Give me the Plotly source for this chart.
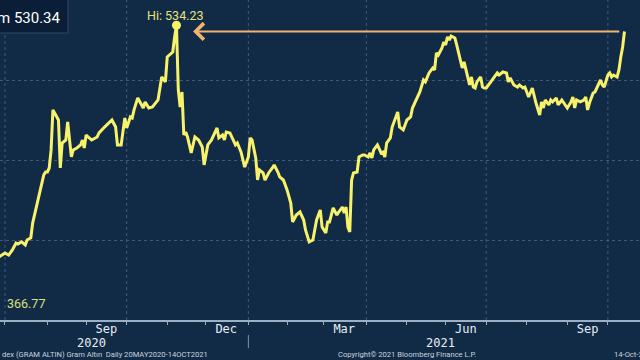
import plotly.graph_objects as go

# ---- data ----
dates = [
    "2020-05-20", "2020-05-22", "2020-05-27", "2020-06-01", "2020-06-05", "2020-06-10", "2020-06-15",
    "2020-06-19", "2020-06-24", "2020-06-26",
    "2020-07-01", "2020-07-03", "2020-07-07", "2020-07-09", "2020-07-10", "2020-07-14", "2020-07-16",
    "2020-07-17", "2020-07-21", "2020-07-22", "2020-07-24", "2020-07-28", "2020-07-30", "2020-07-31",
    "2020-08-03", "2020-08-04", "2020-08-05", "2020-08-06", "2020-08-10", "2020-08-11", "2020-08-12",
    "2020-08-13", "2020-08-17", "2020-08-18", "2020-08-20", "2020-08-21", "2020-08-25", "2020-08-27",
    "2020-08-28", "2020-08-31", "2020-09-01", "2020-09-02", "2020-09-04", "2020-09-09", "2020-09-10",
    "2020-09-15", "2020-09-17", "2020-09-21", "2020-09-23", "2020-09-24", "2020-09-28", "2020-09-30",
    "2020-10-01", "2020-10-05", "2020-10-06", "2020-10-07", "2020-10-09", "2020-10-14", "2020-10-15",
    "2020-10-19", "2020-10-21", "2020-10-26", "2020-10-28", "2020-10-30", "2020-11-02", "2020-11-04",
    "2020-11-05", "2020-11-06", "2020-11-09", "2020-11-10", "2020-11-11", "2020-11-12", "2020-11-13",
    "2020-11-16", "2020-11-17", "2020-11-19", "2020-11-23", "2020-11-25", "2020-11-27", "2020-11-30",
    "2020-12-02", "2020-12-04", "2020-12-08", "2020-12-09", "2020-12-10", "2020-12-14", "2020-12-15",
    "2020-12-16", "2020-12-18", "2020-12-22", "2020-12-23", "2020-12-24", "2020-12-28", "2020-12-30",
    "2021-01-01", "2021-01-04", "2021-01-05", "2021-01-07", "2021-01-08", "2021-01-11", "2021-01-13",
    "2021-01-14", "2021-01-18", "2021-01-20", "2021-01-21", "2021-01-25", "2021-01-26", "2021-01-28",
    "2021-02-01", "2021-02-03", "2021-02-04", "2021-02-08", "2021-02-10", "2021-02-12", "2021-02-15",
    "2021-02-17", "2021-02-19", "2021-02-23", "2021-02-25", "2021-02-26", "2021-03-02", "2021-03-03",
    "2021-03-04", "2021-03-08", "2021-03-10", "2021-03-11", "2021-03-15", "2021-03-16", "2021-03-17",
    "2021-03-18", "2021-03-19", "2021-03-22", "2021-03-23", "2021-03-25", "2021-03-26", "2021-03-30",
    "2021-03-31", "2021-04-02", "2021-04-05", "2021-04-06", "2021-04-07", "2021-04-09", "2021-04-12",
    "2021-04-13", "2021-04-14", "2021-04-15", "2021-04-16", "2021-04-20", "2021-04-21", "2021-04-26",
    "2021-04-27", "2021-04-29", "2021-05-03", "2021-05-05", "2021-05-06", "2021-05-10", "2021-05-12",
    "2021-05-14", "2021-05-17", "2021-05-19", "2021-05-21", "2021-05-24", "2021-05-25", "2021-05-26",
    "2021-05-28", "2021-05-31", "2021-06-01", "2021-06-02", "2021-06-03", "2021-06-04", "2021-06-08",
    "2021-06-09", "2021-06-10", "2021-06-14", "2021-06-15", "2021-06-17", "2021-06-18", "2021-06-21",
    "2021-06-22", "2021-06-23", "2021-06-24", "2021-06-28", "2021-06-29", "2021-06-30", "2021-07-01",
    "2021-07-05", "2021-07-07", "2021-07-09", "2021-07-12", "2021-07-14", "2021-07-16", "2021-07-19",
    "2021-07-20", "2021-07-22", "2021-07-26", "2021-07-27", "2021-07-29", "2021-07-30", "2021-08-03",
    "2021-08-04", "2021-08-05", "2021-08-09", "2021-08-11", "2021-08-12", "2021-08-13", "2021-08-16",
    "2021-08-18", "2021-08-19", "2021-08-20", "2021-08-24", "2021-08-25", "2021-08-27", "2021-08-30",
    "2021-08-31", "2021-09-01", "2021-09-03", "2021-09-06", "2021-09-07", "2021-09-08", "2021-09-10",
    "2021-09-14", "2021-09-15", "2021-09-16", "2021-09-17", "2021-09-21", "2021-09-22", "2021-09-23",
    "2021-09-27", "2021-09-28", "2021-09-29", "2021-10-01", "2021-10-04", "2021-10-05", "2021-10-06",
    "2021-10-08", "2021-10-11", "2021-10-12", "2021-10-13", "2021-10-14",
]
prices = [
    372.5, 375.0, 370.0, 372.0, 366.77, 376.0, 379.0,
    384.0, 389.0, 389.6,
    391.9, 390.6, 393.8, 398.1, 397.5, 398.8, 396.9,
    400.0, 401.3, 410.6, 420.6, 431.3, 440.6, 442.5,
    442.5, 445.0, 456.3, 481.3, 476.9, 475.0, 445.0,
    460.6, 462.5, 473.8, 451.9, 456.3, 457.5, 459.4,
    462.5, 457.5, 465.6, 464.4, 462.5, 464.4, 466.9,
    470.6, 473.1, 475.0, 470.6, 459.4, 459.4, 476.3,
    470.0, 476.9, 476.3, 481.3, 488.8, 482.5, 486.3,
    482.5, 483.1, 487.5, 501.9, 498.8, 514.4, 516.9,
    517.5, 526.9, 534.23, 493.8, 483.1, 492.5, 465.6,
    467.5, 464.4, 454.4, 464.4, 462.5, 458.1, 446.9,
    459.4, 462.5, 467.5, 470.0, 463.8, 465.6, 462.5,
    467.5, 466.9, 461.3, 459.4, 460.6, 455.0, 445.6,
    451.9, 463.8, 462.5, 451.3, 437.5, 443.8, 441.9,
    437.5, 441.9, 445.0, 446.9, 442.5, 439.4, 437.5,
    431.3, 423.1, 411.3, 415.6, 417.5, 412.5, 406.3,
    398.8, 400.0, 412.5, 418.8, 408.1, 404.4, 411.3,
    411.3, 420.0, 415.6, 417.5, 420.6, 416.9, 420.6,
    408.1, 405.0, 437.5, 441.9, 442.5, 451.9, 453.1,
    453.1, 451.9, 454.4, 451.3, 456.3, 459.4, 456.3,
    454.4, 455.0, 451.9, 460.6, 463.8, 470.6, 480.0,
    470.6, 468.8, 475.0, 476.9, 482.5, 487.5, 492.5,
    500.0, 498.8, 504.4, 507.5, 506.3, 516.9, 515.6,
    520.0, 523.8, 521.9, 526.9, 525.0, 527.5, 526.3,
    521.9, 516.9, 507.5, 511.3, 501.3, 496.9, 501.9,
    495.6, 495.0, 498.8, 501.9, 495.6, 495.0, 495.0,
    498.1, 501.3, 504.4, 503.1, 505.0, 504.4, 498.8,
    501.3, 496.9, 495.6, 496.9, 495.0, 495.6, 489.4,
    491.9, 495.0, 485.6, 478.1, 486.3, 482.5, 487.5,
    484.4, 487.5, 486.3, 488.8, 484.4, 487.5, 485.6,
    484.4, 482.5, 486.3, 489.4, 482.5, 487.5, 486.3,
    487.5, 489.4, 481.3, 485.6, 491.9, 492.5, 495.0,
    500.0, 496.9, 495.6, 503.1, 504.4, 501.9, 503.1,
    501.9, 506.3, 514.4, 520.6, 530.34,
]

hi_date = "2020-11-09"
hi_value = 534.23
low_value = 366.77
last_date = "2021-10-14"
last_value = 530.34
arrow_tail_date = "2021-10-12"
arrow_head_date = "2020-11-20"

month_starts = ["2020-07-01", "2020-08-03", "2020-09-01", "2020-10-01", "2020-11-02", "2020-12-01",
                "2021-01-01", "2021-02-01", "2021-03-01", "2021-04-01", "2021-05-03", "2021-06-01",
                "2021-07-01", "2021-08-02", "2021-09-01", "2021-10-01"]
label_dates = ["2020-09-16", "2020-12-16", "2021-03-16", "2021-06-16", "2021-09-16"]
label_texts = ["Sep", "Dec", "Mar", "Jun", "Sep"]
quarter_lines = ["2020-07-01", "2020-10-01", "2021-01-01", "2021-04-01", "2021-07-01", "2021-10-01"]
year_texts = ["2020", "2021"]
year_dates = ["2020-09-04", "2021-05-27"]

BG = "#112b47"
GRID = "#3f5978"
LINE = "#f8f26a"
MONO = "DejaVu Sans Mono"

fig = go.Figure()
fig.add_trace(go.Scatter(x=dates, y=prices, mode="lines",
                         line=dict(color=LINE, width=3), hoverinfo="skip", showlegend=False))
fig.add_trace(go.Scatter(x=[hi_date], y=[hi_value], mode="markers",
                         marker=dict(color=LINE, size=9), showlegend=False, cliponaxis=False))

shapes = []
for d in quarter_lines:
    shapes.append(dict(type="line", xref="x", yref="paper", x0=d, x1=d, y0=0, y1=1,
                       line=dict(color=GRID, width=1, dash="dot"), layer="below"))
# year separator below axis
shapes.append(dict(type="line", xref="x", yref="paper", x0="2021-01-01", x1="2021-01-01",
                   y0=-0.088, y1=-0.047, line=dict(color="#8094aa", width=1)))
# top-left value box
shapes.append(dict(type="rect", xref="paper", yref="paper", x0=-0.02, x1=68 / 640,
                   y0=(320 - 33) / 320, y1=1.02, fillcolor="#0a1f37",
                   line=dict(color="#2c4764", width=1)))
fig.update_layout(shapes=shapes)

annotations = [
    dict(x=arrow_head_date, y=last_value, ax=arrow_tail_date, ay=last_value, axref="x", ayref="y",
         xref="x", yref="y", text="", showarrow=True, arrowhead=4, arrowsize=1.6, arrowwidth=2,
         arrowcolor="#f0b46e"),
    dict(x=hi_date, y=hi_value, text="Hi: " + f"{hi_value:.2f}", showarrow=False, yshift=10,
         xshift=-1, font=dict(family="Roboto", size=12.5, color="#e6e27c")),
    dict(x=5 / 640, xref="paper", xanchor="left", y=low_value, yref="y", yanchor="top", yshift=-1,
         text=f"{low_value:.2f}", showarrow=False,
         font=dict(family="Roboto", size=12.5, color="#dbe07a")),
    dict(x=63 / 640, xref="paper", xanchor="right", y=(320 - 18) / 320, yref="paper",
         yanchor="middle", text="m " + f"{last_value:.2f}", showarrow=False,
         font=dict(family="Roboto", size=15, color="#ffffff")),
    dict(x=0, xref="paper", xanchor="left", y=(320 - 354) / 320, yref="paper", yanchor="middle",
         text="dex (GRAM ALTIN) Gram Altın  Daily 20MAY2020-14OCT2021", showarrow=False,
         font=dict(family="Roboto", size=7.6, color="#c9d2dd")),
    dict(x=407 / 640, xref="paper", xanchor="center", y=(320 - 354) / 320, yref="paper",
         yanchor="middle", text="Copyright© 2021 Bloomberg Finance L.P.", showarrow=False,
         font=dict(family="Roboto", size=7.6, color="#c9d2dd")),
    dict(x=612 / 640, xref="paper", xanchor="left", y=(320 - 354) / 320, yref="paper",
         yanchor="middle", text="14-Oct-2021", showarrow=False,
         font=dict(family="Roboto", size=7.6, color="#c9d2dd")),
]
for t, d in zip(year_texts, year_dates):
    annotations.append(dict(x=d, xref="x", y=(320 - 343) / 320, yref="paper", yanchor="middle",
                            text=t, showarrow=False,
                            font=dict(family=MONO, size=12, color="#e8edf3")))
fig.update_layout(annotations=annotations)

fig.update_layout(
    width=640, height=360,
    margin=dict(l=0, r=0, t=0, b=40),
    paper_bgcolor=BG, plot_bgcolor=BG,
    showlegend=False,
    xaxis=dict(
        type="date",
        range=["2020-06-26 07:00", "2021-10-26 10:00"],
        rangebreaks=[dict(bounds=["sat", "mon"])],
        tickmode="array", tickvals=label_dates, ticktext=label_texts,
        ticks="", showgrid=False, zeroline=False, automargin=False,
        ticklabelstandoff=-3,
        showline=True, linecolor="#9cb0c5", linewidth=2,
        tickfont=dict(family=MONO, size=12, color="#e8edf3"),
        minor=dict(tickmode="array", tickvals=month_starts, ticks="outside", ticklen=3,
                   tickcolor="#9cb0c5", tickwidth=1, showgrid=False),
    ),
    yaxis=dict(
        range=[350, 550], dtick=50, tick0=350, showticklabels=False, automargin=False,
        showgrid=True, gridcolor=GRID, griddash="dot", gridwidth=1, zeroline=False,
    ),
)

fig.write_html("out.html", config={"displayModeBar": False},
               post_script="document.body.style.margin='0px';")
